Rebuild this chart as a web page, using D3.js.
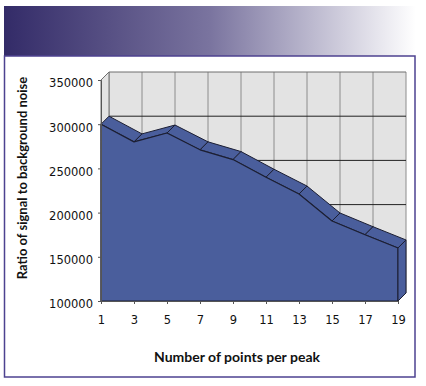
<!DOCTYPE html>
<html>
<head>
<meta charset="utf-8">
<script src="https://cdn.jsdelivr.net/npm/d3@7"></script>
<style>
  body { margin: 0; background: #fff; }
  svg { display: block; }
</style>
</head>
<body>
<script>
var width = 426;
var height = 386;

var categories = [1, 3, 5, 7, 9, 11, 13, 15, 17, 19];
var ratios = [300000, 280000, 290000, 271000, 260000, 240000, 221000, 190500, 175000, 160000];
var yTicks = [100000, 150000, 200000, 250000, 300000, 350000];

// oblique depth of the 3d box
var depthX = 8;
var depthY = -8;

var blue = "#4a5e9c";
var edge = "#1c1f33";

var svg = d3.select("body").append("svg")
    .attr("width", width)
    .attr("height", height);

var defs = svg.append("defs");
var grad = defs.append("linearGradient")
    .attr("id", "header-grad")
    .attr("x1", "0%").attr("x2", "100%")
    .attr("y1", "0%").attr("y2", "0%");
grad.append("stop").attr("offset", "0%").attr("stop-color", "#332b68");
grad.append("stop").attr("offset", "50%").attr("stop-color", "#7a749f");
grad.append("stop").attr("offset", "100%").attr("stop-color", "#ffffff");

// header band and panel frame
svg.append("rect")
    .attr("x", 4).attr("y", 6)
    .attr("width", 412).attr("height", 50)
    .attr("fill", "url(#header-grad)");

svg.append("rect")
    .attr("x", 4.5).attr("y", 56)
    .attr("width", 410.5).attr("height", 321)
    .attr("fill", "#fff")
    .attr("stroke", "#4d4290")
    .attr("stroke-width", 1.5);

var x = d3.scaleLinear().domain([1, 19]).range([101, 398]);
var y = d3.scaleLinear().domain([100000, 350000]).range([301, 80]);

var yMin = y.domain()[0], yMax = y.domain()[1];

// back wall
var wall = svg.append("g");
wall.append("rect")
    .attr("x", x(1) + depthX).attr("y", y(yMax) + depthY)
    .attr("width", x(19) - x(1))
    .attr("height", y(yMin) - y(yMax))
    .attr("fill", "#e3e3e3");

wall.selectAll(".vgrid").data(categories).enter().append("line")
    .attr("class", "vgrid")
    .attr("x1", function(d) { return x(d) + depthX; })
    .attr("x2", function(d) { return x(d) + depthX; })
    .attr("y1", y(yMax) + depthY)
    .attr("y2", y(yMin) + depthY)
    .attr("stroke", "#8c8c8c")
    .attr("stroke-width", 1);

wall.selectAll(".hgrid").data(yTicks).enter().append("line")
    .attr("class", "hgrid")
    .attr("x1", x(1) + depthX)
    .attr("x2", x(19) + depthX)
    .attr("y1", function(d) { return y(d) + depthY; })
    .attr("y2", function(d) { return y(d) + depthY; })
    .attr("stroke", function(d) { return d === yMax ? "#6e6e6e" : "#222"; })
    .attr("stroke-width", 1);

// left side wall
wall.append("path")
    .attr("d", d3.line()([
        [x(1), y(yMin)], [x(1), y(yMax)],
        [x(1) + depthX, y(yMax) + depthY], [x(1) + depthX, y(yMin) + depthY]
    ]) + "Z")
    .attr("fill", "#e3e3e3")
    .attr("stroke", "#6e6e6e")
    .attr("stroke-width", 1);

var pts = categories.map(function(c, i) { return [x(c), y(ratios[i])]; });

// top surface of the area, one strip per segment
var strips = d3.pairs(pts);
svg.selectAll(".strip").data(strips).enter().append("path")
    .attr("class", "strip")
    .attr("d", function(p) {
        return d3.line()([
            p[0], p[1],
            [p[1][0] + depthX, p[1][1] + depthY],
            [p[0][0] + depthX, p[0][1] + depthY]
        ]) + "Z";
    })
    .attr("fill", blue)
    .attr("stroke", edge)
    .attr("stroke-width", 1)
    .attr("stroke-linejoin", "round");

// front face
var area = d3.area()
    .x(function(d) { return d[0]; })
    .y0(y(yMin))
    .y1(function(d) { return d[1]; });

svg.append("path")
    .attr("d", area(pts))
    .attr("fill", blue)
    .attr("stroke", edge)
    .attr("stroke-width", 1.2)
    .attr("stroke-linejoin", "round");

// right end face
var last = pts[pts.length - 1];
svg.append("path")
    .attr("d", d3.line()([
        last, [last[0] + depthX, last[1] + depthY],
        [last[0] + depthX, y(yMin) + depthY], [last[0], y(yMin)]
    ]) + "Z")
    .attr("fill", blue)
    .attr("stroke", edge)
    .attr("stroke-width", 1)
    .attr("stroke-linejoin", "round");

// axes
var yAxis = d3.axisLeft(y).tickValues(yTicks).tickSize(3).tickPadding(5).tickFormat(d3.format("d"));
var gy = svg.append("g")
    .attr("transform", "translate(" + x(1) + ",0)")
    .call(yAxis);
gy.select(".domain").attr("stroke", "#555");
gy.selectAll(".tick line").attr("stroke", "#555");
gy.selectAll("text")
    .attr("font-family", "DejaVu Sans, Verdana, sans-serif")
    .attr("font-size", 11.5)
    .attr("fill", "#111")
    .attr("dy", "0.6em");

var xAxis = d3.axisBottom(x).tickValues(categories).tickSize(3).tickPadding(12).tickFormat(d3.format("d"));
var gx = svg.append("g")
    .attr("transform", "translate(0," + y(yMin) + ")")
    .call(xAxis);
gx.select(".domain").attr("stroke", "#555");
gx.selectAll(".tick line").attr("stroke", "#555");
gx.selectAll("text")
    .attr("font-family", "DejaVu Sans, Verdana, sans-serif")
    .attr("font-size", 11.5)
    .attr("fill", "#111");

// titles
svg.append("text")
    .attr("x", 237).attr("y", 362)
    .attr("text-anchor", "middle")
    .attr("font-family", "Lato, Open Sans, sans-serif")
    .attr("font-weight", "bold")
    .attr("font-size", 14)
    .attr("fill", "#111")
    .text("Number of points per peak");

svg.append("text")
    .attr("transform", "translate(27,178) rotate(-90)")
    .attr("text-anchor", "middle")
    .attr("font-family", "Lato, Open Sans, sans-serif")
    .attr("font-weight", "bold")
    .attr("font-size", 13)
    .attr("fill", "#111")
    .text("Ratio of signal to background noise");
</script>
</body>
</html>
